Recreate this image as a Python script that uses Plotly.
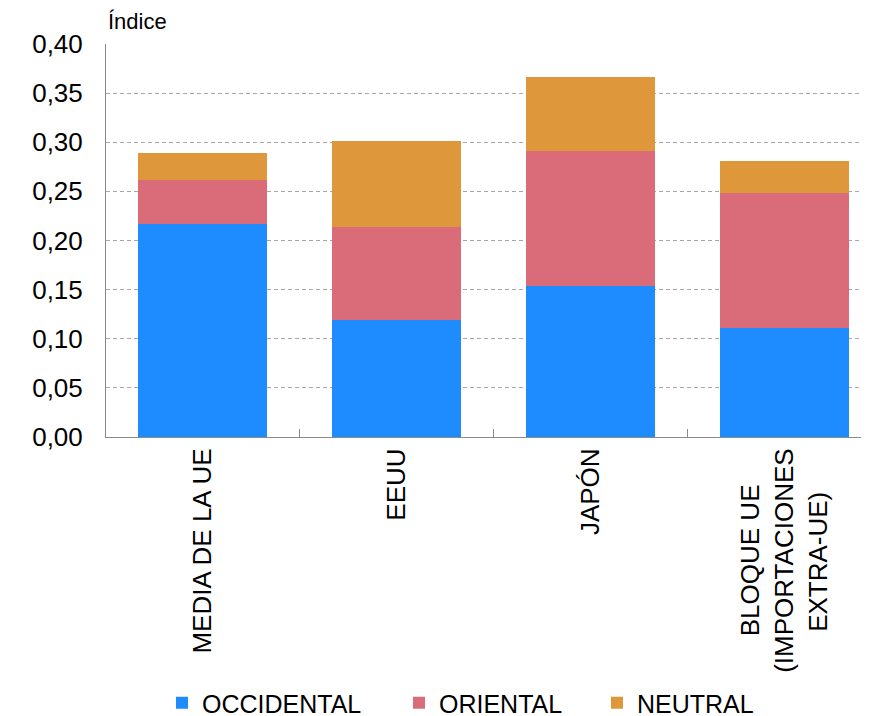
import plotly.graph_objects as go

categories = [
    "MEDIA DE LA UE",
    "EEUU",
    "JAPÓN",
    "BLOQUE UE<br>(IMPORTACIONES<br>EXTRA-UE)",
]
occidental = [0.217, 0.119, 0.154, 0.111]
oriental = [0.045, 0.095, 0.137, 0.137]
neutral = [0.027, 0.087, 0.075, 0.033]
y_ticks = [0.0, 0.05, 0.10, 0.15, 0.20, 0.25, 0.30, 0.35, 0.40]

BLUE = "#1e8cff"
PINK = "#da6b78"
ORANGE = "#de973a"
GREY = "#8a8a8a"
FONT = "Liberation Sans, Arial, sans-serif"

# rotated multi-line labels are end-aligned by plotly; pad shorter lines
# with non-breaking spaces so the three lines look centred
NB = "\u00a0"
tick_text = [
    "MEDIA DE LA UE",
    "EEUU",
    "JAPÓN",
    "BLOQUE UE" + NB * 5 + "<br>(IMPORTACIONES<br>EXTRA-UE)" + NB * 6,
]

series = [
    ("OCCIDENTAL", occidental, BLUE, "legend"),
    ("ORIENTAL", oriental, PINK, "legend2"),
    ("NEUTRAL", neutral, ORANGE, "legend3"),
]

fig = go.Figure()
for name, vals, color, leg in series:
    fig.add_trace(
        go.Bar(
            x=categories,
            y=vals,
            name=name,
            marker=dict(color=color, line=dict(width=0)),
            width=0.665,
            legend=leg,
            showlegend=True,
        )
    )

# page body has an 8px margin, so the figure is a bit smaller than the window
W, H = 861, 708
leg_style = dict(
    orientation="h",
    xref="container",
    yref="container",
    y=1 - 695 / H,
    yanchor="middle",
    xanchor="left",
    font=dict(size=25),
    bgcolor="rgba(0,0,0,0)",
)

fig.update_layout(
    barmode="stack",
    width=W,
    height=H,
    showlegend=True,
    paper_bgcolor="white",
    plot_bgcolor="white",
    font=dict(family=FONT, size=26, color="black"),
    margin=dict(l=98, r=3, t=36, b=279, autoexpand=False),
    separators=",.",
    xaxis=dict(
        range=[-0.5, 3.42],
        tickvals=categories,
        ticktext=tick_text,
        showline=True,
        linecolor=GREY,
        linewidth=1,
        ticks="inside",
        tickson="boundaries",
        ticklen=8,
        tickcolor=GREY,
        tickangle=-90,
        tickfont=dict(size=26),
        showgrid=False,
        automargin=False,
    ),
    yaxis=dict(
        range=[0, 0.40],
        tickvals=y_ticks,
        tickformat=".2f",
        showline=True,
        linecolor=GREY,
        linewidth=1,
        showgrid=True,
        gridcolor="#a8a8a8",
        griddash="4px,3px",
        gridwidth=1,
        zeroline=False,
        ticks="",
        ticklabelstandoff=17,
        tickfont=dict(size=26),
        automargin=False,
    ),
    legend=dict(leg_style, x=154 / W),
    legend2=dict(leg_style, x=391 / W),
    legend3=dict(leg_style, x=589 / W),
    annotations=[
        dict(
            text="Índice",
            xref="paper",
            yref="paper",
            x=0,
            y=1,
            xanchor="left",
            yanchor="bottom",
            yshift=8,
            showarrow=False,
            font=dict(size=22),
        )
    ],
)

fig.write_html("out.html")
